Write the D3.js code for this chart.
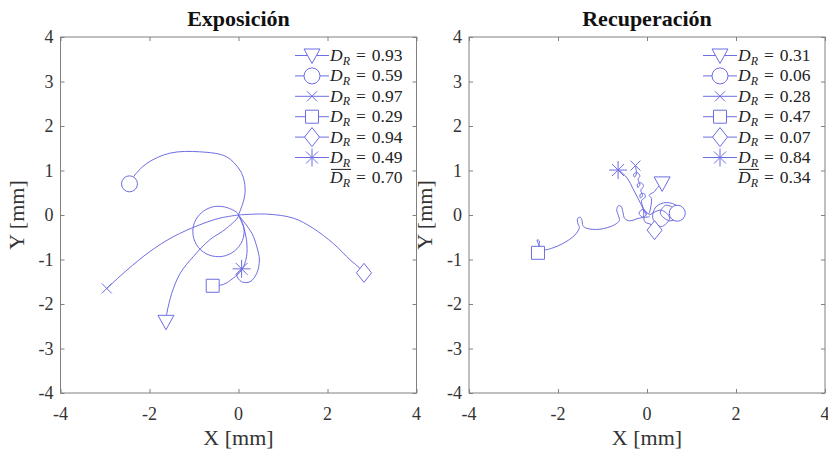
<!DOCTYPE html>
<html><head><meta charset="utf-8">
<script src="https://cdn.jsdelivr.net/npm/d3@7"></script>
<style>
body{margin:0;background:#fff;}
svg{display:block;}
</style></head>
<body><svg id="c" width="828" height="453"></svg>
<script>
// ---------- data ----------
const axisTicks = [-4,-3,-2,-1,0,1,2,3,4];
const xTickLabels = ["-4","-2","0","2","4"];
const xTickValues = [-4,-2,0,2,4];
const markerTypes = ["triangle","circle","cross","square","diamond","asterisk"];
const panelTitles = ["Exposición","Recuperación"];
const expDR = ["0.93","0.59","0.97","0.29","0.94","0.49"];
const expMean = "0.70";
const recDR = ["0.31","0.06","0.28","0.47","0.07","0.84"];
const recMean = "0.34";

// Exposición trajectories (x, y in mm), last point = marker
const expTriangle = [[0,0],[0.12,-0.28],[0.09,-0.57],[-0.09,-0.81],[-0.36,-0.93],[-0.66,-0.90],[-0.90,-0.73],[-1.02,-0.46],[-0.99,-0.17],[-0.81,0.07],[-0.54,0.19],[-0.24,0.16],[0,0],[-0.27,-0.30],[-0.65,-0.56],[-1.02,-0.94],[-1.31,-1.31],[-1.50,-1.76],[-1.61,-2.21],[-1.63,-2.40]];
const expCircle = [[0,0],[0.12,0.34],[0.15,0.56],[0.12,0.80],[0.03,1.01],[-0.27,1.31],[-0.87,1.42],[-1.54,1.39],[-2.06,1.16],[-2.36,0.86],[-2.45,0.70]];
const expCross = [[0,0],[-0.42,-0.07],[-0.87,-0.22],[-1.47,-0.49],[-1.99,-0.82],[-2.51,-1.24],[-2.96,-1.65]];
const expSquare = [[0,0],[0.11,-0.26],[0.18,-0.56],[0.18,-0.94],[0.07,-1.24],[-0.12,-1.42],[-0.34,-1.56],[-0.58,-1.59]];
const expDiamond = [[0,0],[0.63,0.02],[1.23,-0.07],[1.68,-0.30],[2.13,-0.64],[2.51,-1.01],[2.73,-1.20],[2.82,-1.30]];
const expAsterisk = [[0,0],[0.30,-0.41],[0.41,-0.71],[0.47,-1.01],[0.41,-1.31],[0.26,-1.50],[0.07,-1.50],[-0.04,-1.35],[0.07,-1.21]];

// Recuperación trajectories
const recTriangle = [[0.04,0.02],[0.06,0.07],[0.10,0.37],[0.05,0.44],[0.09,0.48],[0.15,0.51],[0.24,0.62],[0.34,0.71]];
const recCircle = [[0.06,0.0],[0.32,0.11],[0.51,-0.07],[0.32,-0.26],[0.13,-0.07],[0.20,0.18],[0.43,0.28],[0.69,0.19],[0.72,-0.04],[0.51,-0.13],[0.30,0.04],[0.42,0.22],[0.62,0.14],[0.68,0.04]];
const recCross = [[-0.02,0.04],[-0.10,0.20],[-0.12,0.33],[-0.04,0.40],[-0.06,0.48],[-0.15,0.47],[-0.15,0.38],[-0.10,0.44],[-0.14,0.56],[-0.08,0.64],[-0.12,0.72],[-0.21,0.70],[-0.21,0.62],[-0.16,0.68],[-0.20,0.80],[-0.16,0.88],[-0.22,0.95],[-0.30,0.92],[-0.28,0.85],[-0.24,0.92],[-0.26,1.11]];
const recSquare = [[0.06,-0.04],[-0.17,-0.07],[-0.39,-0.13],[-0.50,-0.08],[-0.54,0.06],[-0.58,0.19],[-0.64,0.21],[-0.68,0.12],[-0.64,-0.02],[-0.62,-0.12],[-0.73,-0.22],[-1.06,-0.32],[-1.35,-0.30],[-1.44,-0.24],[-1.46,-0.12],[-1.50,-0.05],[-1.56,-0.08],[-1.55,-0.20],[-1.52,-0.28],[-1.62,-0.45],[-1.89,-0.64],[-2.15,-0.75],[-2.32,-0.78],[-2.42,-0.68],[-2.47,-0.56],[-2.42,-0.58],[-2.44,-0.72],[-2.45,-0.85]];
const recDiamond = [[0.06,0.0],[-0.09,0.13],[0.0,0.04],[-0.09,-0.05],[-0.18,0.04],[-0.09,0.13],[-0.05,-0.15],[0.10,-0.22],[0.17,-0.34]];
const recAsterisk = [[-0.02,0.0],[-0.09,0.15],[-0.20,0.37],[-0.32,0.60],[-0.43,0.81],[-0.55,0.94],[-0.65,1.01]];

const panels = [
  {title: panelTitles[0], x0: 60.5, series:[expTriangle,expCircle,expCross,expSquare,expDiamond,expAsterisk], dr: expDR, mean: expMean, legX: 295},
  {title: panelTitles[1], x0: 469, series:[recTriangle,recCircle,recCross,recSquare,recDiamond,recAsterisk], dr: recDR, mean: recMean, legX: 703}
];

// ---------- drawing ----------
const svg = d3.select("#c");
const W = 356, y0 = 37, y1 = 393;
const lineCol = "#6d6de3";
const axisCol = "#808080";
const textCol = "#333";
const serif = "'Liberation Serif','Times New Roman',serif";

function markerPath(t){
  switch(t){
    case "triangle": return "M-8,-6.5L8,-6.5L0,8Z";
    case "circle": return "M8,0A8,8 0 1 1 -8,0A8,8 0 1 1 8,0Z";
    case "cross": return "M-5,-5L5,5M-5,5L5,-5";
    case "square": return "M-6.5,-6.5H6.5V6.5H-6.5Z";
    case "diamond": return "M0,-9.5L7.5,0L0,9.5L-7.5,0Z";
    case "asterisk": return "M-9,0H9M0,-9V9M-6,-6L6,6M-6,6L6,-6";
  }
}

panels.forEach(p => {
  const x = d3.scaleLinear().domain([-4,4]).range([p.x0, p.x0+W]);
  const y = d3.scaleLinear().domain([-4,4]).range([y1, y0]);
  const g = svg.append("g");

  g.append("rect").attr("x",p.x0).attr("y",y0).attr("width",W).attr("height",y1-y0)
    .attr("fill","none").attr("stroke",axisCol).attr("stroke-width",1);

  const ax = [
    [d3.axisBottom(x).tickValues(xTickValues), `translate(0,${y1})`],
    [d3.axisTop(x).tickValues(xTickValues), `translate(0,${y0})`],
    [d3.axisLeft(y).tickValues(axisTicks), `translate(${p.x0},0)`],
    [d3.axisRight(y).tickValues(axisTicks), `translate(${p.x0+W},0)`]
  ];
  ax.forEach(([a,tr]) => {
    const ag = g.append("g").attr("transform",tr).call(a.tickSize(-4).tickFormat(""));
    ag.select(".domain").remove();
    ag.selectAll("line").attr("stroke",axisCol);
  });

  g.selectAll(".xl").data(xTickValues).join("text")
    .attr("x",d=>x(d)).attr("y",y1+27).attr("text-anchor","middle")
    .attr("font-family",serif).attr("font-size",18).attr("fill",textCol)
    .text((d,i)=>xTickLabels[i]);
  g.selectAll(".yl").data(axisTicks).join("text")
    .attr("x",p.x0-7).attr("y",d=>y(d)).attr("dy","0.34em").attr("text-anchor","end")
    .attr("font-family",serif).attr("font-size",18).attr("fill",textCol)
    .text(d=>String(d));

  g.append("text").attr("x",p.x0+W/2).attr("y",445).attr("text-anchor","middle")
    .attr("font-family",serif).attr("font-size",22).attr("fill",textCol).text("X [mm]");
  g.append("text").attr("transform",`translate(${p.x0-37},${(y0+y1)/2}) rotate(-90)`)
    .attr("text-anchor","middle").attr("font-family",serif).attr("font-size",22).attr("fill",textCol).text("Y [mm]");

  g.append("text").attr("x",p.x0+W/2).attr("y",26).attr("text-anchor","middle")
    .attr("font-family",serif).attr("font-size",22).attr("font-weight","bold").attr("fill","#111").text(p.title);

  const cid = "clip"+Math.round(p.x0);
  svg.append("clipPath").attr("id",cid).append("rect").attr("x",p.x0).attr("y",y0).attr("width",W).attr("height",y1-y0);

  const line = d3.line().x(d=>x(d[0])).y(d=>y(d[1])).curve(d3.curveCatmullRom.alpha(0.5));
  const pg = g.append("g").attr("clip-path",`url(#${cid})`);
  p.series.forEach(s => {
    pg.append("path").attr("d",line(s)).attr("fill","none").attr("stroke",lineCol).attr("stroke-width",1);
  });
  p.series.forEach((s,i) => {
    const last = s[s.length-1];
    pg.append("path").attr("d",markerPath(markerTypes[i]))
      .attr("transform",`translate(${x(last[0])},${y(last[1])})`)
      .attr("fill", (markerTypes[i]==="cross"||markerTypes[i]==="asterisk")?"none":"#fff")
      .attr("stroke",lineCol).attr("stroke-width",1);
  });

  const rowH = 20.4, row0 = 55.5;
  const lg = g.append("g");
  p.dr.forEach((v,i) => {
    const ry = row0 + i*rowH;
    lg.append("line").attr("x1",p.legX).attr("x2",p.legX+34).attr("y1",ry).attr("y2",ry)
      .attr("stroke",lineCol).attr("stroke-width",1);
    lg.append("path").attr("d",markerPath(markerTypes[i])).attr("transform",`translate(${p.legX+17},${ry})`)
      .attr("fill",(markerTypes[i]==="cross"||markerTypes[i]==="asterisk")?"none":"#fff")
      .attr("stroke",lineCol).attr("stroke-width",1);
  });
  const rows = p.dr.concat([p.mean]);
  rows.forEach((v,i) => {
    const ry = row0 + i*rowH;
    const tx = p.legX + 35;
    const t = lg.append("text").attr("x",tx).attr("y",ry+5.5)
      .attr("font-family",serif).attr("font-size",17.5).attr("fill","#222");
    t.append("tspan").attr("font-style","italic").text("D");
    t.append("tspan").attr("font-style","italic").attr("font-size",12).attr("dy",3.5).text("R");
    t.append("tspan").attr("dy",-3.5).attr("dx",6).text("=");
    t.append("tspan").attr("dx",6).text(v);
    if(i === rows.length-1){
      lg.append("line").attr("x1",tx+1).attr("x2",tx+21).attr("y1",ry-8.5).attr("y2",ry-8.5)
        .attr("stroke","#222").attr("stroke-width",1);
    }
  });
});
</script>
</body></html>
